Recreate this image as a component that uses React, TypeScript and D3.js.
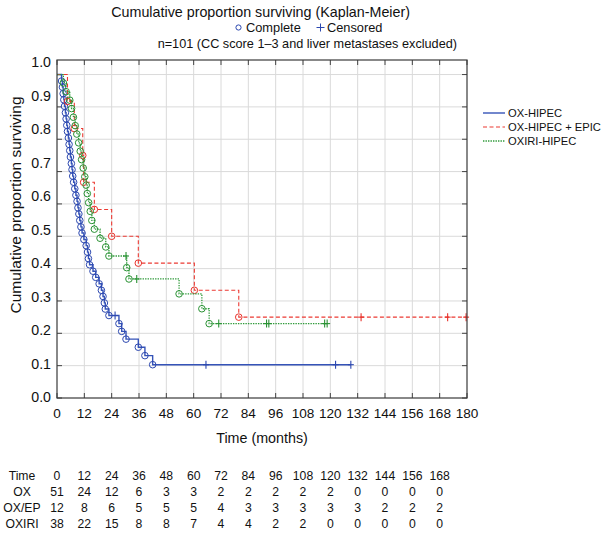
import React from 'react';
import * as d3 from 'd3';

// ---------- data ----------
const xTickValues = [0, 12, 24, 36, 48, 60, 72, 84, 96, 108, 120, 132, 144, 156, 168, 180];
const yTickValues = [0, 0.1, 0.2, 0.3, 0.4, 0.5, 0.6, 0.7, 0.8, 0.9, 1.0];

const seriesNames = ['OX-HIPEC', 'OX-HIPEC + EPIC', 'OXIRI-HIPEC'];

// [time (months), cumulative proportion surviving] at each complete (event) observation
const oxEvents: [number, number][] = [
  [2.0, 0.980], [2.4, 0.961], [2.7, 0.941], [3.0, 0.922], [3.3, 0.902], [3.7, 0.882],
  [4.0, 0.863], [4.3, 0.843], [4.6, 0.824], [5.0, 0.804], [5.3, 0.784], [5.6, 0.765],
  [5.9, 0.745], [6.3, 0.725], [6.6, 0.706], [6.9, 0.686], [7.3, 0.667], [7.8, 0.647],
  [8.3, 0.627], [8.8, 0.608], [9.2, 0.588], [9.6, 0.569], [10.0, 0.549], [10.5, 0.529],
  [11.0, 0.510], [11.8, 0.490], [12.8, 0.471], [13.4, 0.451], [13.8, 0.431], [14.3, 0.412],
  [15.8, 0.392], [17.0, 0.373], [18.5, 0.353], [19.5, 0.333], [20.2, 0.314], [20.8, 0.294],
  [21.2, 0.275], [22.8, 0.255], [27.2, 0.230], [28.4, 0.206], [30.3, 0.182], [35.7, 0.157],
  [38.6, 0.131], [42.0, 0.103],
];
const oxCensored: [number, number][] = [
  [25.5, 0.255], [65.4, 0.103], [122.3, 0.103], [129.0, 0.103],
];

const epicEvents: [number, number][] = [
  [4.6, 0.917], [7.6, 0.833], [11.3, 0.750], [11.7, 0.667], [16.4, 0.583],
  [24.0, 0.500], [35.7, 0.417], [60.3, 0.333], [79.8, 0.250],
];
const epicCensored: [number, number][] = [
  [133.5, 0.250], [171.5, 0.250], [179.6, 0.250],
];

const oxiriEvents: [number, number][] = [
  [2.8, 0.974], [4.0, 0.947], [5.6, 0.921], [6.4, 0.895], [7.2, 0.868], [8.0, 0.842],
  [8.7, 0.816], [9.5, 0.789], [10.2, 0.763], [10.8, 0.737], [11.5, 0.711], [12.2, 0.684],
  [12.8, 0.658], [13.3, 0.632], [13.9, 0.604], [14.6, 0.577], [15.3, 0.549], [16.4, 0.522],
  [18.9, 0.494], [21.4, 0.467], [22.8, 0.439], [30.6, 0.403], [31.6, 0.368], [53.6, 0.322],
  [63.6, 0.276], [66.8, 0.230],
];
const oxiriCensored: [number, number][] = [
  [30.3, 0.439], [35.0, 0.368], [71.0, 0.230], [92.0, 0.230], [93.0, 0.230],
  [117.5, 0.230], [118.6, 0.230],
];

// numbers at risk
const riskTimes = [0, 12, 24, 36, 48, 60, 72, 84, 96, 108, 120, 132, 144, 156, 168];
const riskLabels = ['Time', 'OX', 'OX/EP', 'OXIRI'];
const riskOX = [51, 24, 12, 6, 3, 3, 2, 2, 2, 2, 2, 0, 0, 0, 0];
const riskOXEP = [12, 8, 6, 5, 5, 5, 4, 3, 3, 3, 3, 3, 2, 2, 2];
const riskOXIRI = [38, 22, 15, 8, 8, 7, 4, 4, 2, 2, 0, 0, 0, 0, 0];

// ---------- layout / style ----------
const W = 607;
const H = 533;
const FONT = '"Liberation Sans", Arial, Helvetica, sans-serif';
const plot = { left: 57, right: 467, top: 60, bottom: 398 };

const styles = [
  { color: '#3553b8', mark: '#2c48b0', width: 1.4, dash: undefined as string | undefined },
  { color: '#ec3a33', mark: '#e8322b', width: 1.1, dash: '4,2.5' },
  { color: '#2f9a3a', mark: '#2a9234', width: 1.3, dash: '1.4,1.1' },
];

export default function App() {
  const x = d3.scaleLinear().domain([0, 180]).range([plot.left, plot.right]);
  const y = d3.scaleLinear().domain([0, 1.045]).range([plot.bottom, plot.top]);
  const yLabel = d3.scaleLinear().domain([0, 1]).range([397, 62]);

  const line = d3
    .line<[number, number]>()
    .x((d) => x(d[0]))
    .y((d) => y(d[1]))
    .curve(d3.curveStepAfter);

  const series = [
    { events: oxEvents, censored: oxCensored },
    { events: epicEvents, censored: epicCensored },
    { events: oxiriEvents, censored: oxiriCensored },
  ];

  const paths = series.map((s) => {
    const endT = d3.max(s.censored, (d) => d[0]) as number;
    const last = s.events[s.events.length - 1][1];
    const pts: [number, number][] = [[0, 1], ...s.events, [endT, last]];
    return line(pts) as string;
  });

  const tickLen = 5;
  const riskRows = [riskTimes, riskOX, riskOXEP, riskOXIRI];
  const riskY = [476, 492, 508, 524];

  return (
    <svg
      width={W}
      height={H}
      viewBox={`0 0 ${W} ${H}`}
      style={{ position: 'absolute', left: 0, top: 0, background: '#fff' }}
      fontFamily={FONT}
    >
      <rect x={0} y={0} width={W} height={H} fill="#fff" />

      {/* titles */}
      <text x={410} y={16.5} fontSize={14.3} textAnchor="end" fill="#111">
        Cumulative proportion surviving (Kaplan-Meier)
      </text>
      <circle cx={238.5} cy={27.5} r={2.6} fill="none" stroke="#2c48b0" strokeWidth={1} />
      <text x={246} y={32} fontSize={12.8} fill="#111">Complete</text>
      <g stroke="#2c48b0" strokeWidth={1}>
        <line x1={320.5} x2={320.5} y1={23.5} y2={31.5} />
        <line x1={316.5} x2={324.5} y1={27.5} y2={27.5} />
      </g>
      <text x={327} y={32} fontSize={12.8} fill="#111">Censored</text>
      <text x={457} y={48} fontSize={12.7} textAnchor="end" fill="#111">
        n=101 (CC score 1–3 and liver metastases excluded)
      </text>

      {/* grid */}
      <g stroke="#dadada" strokeWidth={1}>
        {xTickValues.slice(1, -1).map((t) => (
          <line key={'gx' + t} x1={x(t)} x2={x(t)} y1={plot.top} y2={plot.bottom} />
        ))}
        {yTickValues.slice(1).map((v) => (
          <line key={'gy' + v} x1={plot.left} x2={plot.right} y1={y(v)} y2={y(v)} />
        ))}
      </g>

      {/* ticks */}
      <g stroke="#444" strokeWidth={1}>
        {xTickValues.map((t) => (
          <g key={'tx' + t}>
            <line x1={x(t)} x2={x(t)} y1={plot.bottom} y2={plot.bottom - tickLen} />
            <line x1={x(t)} x2={x(t)} y1={plot.top} y2={plot.top + tickLen} />
          </g>
        ))}
        {yTickValues.map((v) => (
          <g key={'ty' + v}>
            <line x1={plot.left} x2={plot.left + tickLen} y1={y(v)} y2={y(v)} />
            <line x1={plot.right} x2={plot.right - tickLen} y1={y(v)} y2={y(v)} />
          </g>
        ))}
      </g>

      {/* curves */}
      {series.map((s, i) => (
        <g key={'s' + i}>
          <path
            d={paths[i]}
            fill="none"
            stroke={styles[i].color}
            strokeWidth={styles[i].width}
            strokeDasharray={styles[i].dash}
          />
          {s.events.map((d, j) => (
            <circle
              key={'c' + j}
              cx={x(d[0])}
              cy={y(d[1])}
              r={3.3}
              fill="none"
              stroke={styles[i].mark}
              strokeWidth={1}
            />
          ))}
          {s.censored.map((d, j) => (
            <g key={'p' + j} stroke={styles[i].mark} strokeWidth={1.1}>
              <line x1={x(d[0])} x2={x(d[0])} y1={y(d[1]) - 4} y2={y(d[1]) + 4} />
              <line x1={x(d[0]) - 3} x2={x(d[0]) + 3} y1={y(d[1])} y2={y(d[1])} />
            </g>
          ))}
        </g>
      ))}

      {/* frame */}
      <rect
        x={plot.left}
        y={plot.top}
        width={plot.right - plot.left}
        height={plot.bottom - plot.top}
        fill="none"
        stroke="#3a3a3a"
        strokeWidth={1.2}
      />

      {/* axis labels */}
      {yTickValues.map((v) => (
        <text key={'ly' + v} x={51} y={yLabel(v)} dy="0.36em" fontSize={14.2} textAnchor="end" fill="#111">
          {v.toFixed(1)}
        </text>
      ))}
      {xTickValues.map((t) => (
        <text key={'lx' + t} x={x(t)} y={418} fontSize={13.6} textAnchor="middle" fill="#111">
          {t}
        </text>
      ))}
      <text x={262} y={443} fontSize={14.3} textAnchor="middle" fill="#111">
        Time (months)
      </text>
      <text
        transform={`translate(21,${205}) rotate(-90)`}
        fontSize={15.5}
        textAnchor="middle"
        fill="#111"
      >
        Cumulative proportion surviving
      </text>

      {/* legend */}
      {seriesNames.map((name, i) => (
        <g key={'lg' + i}>
          <line
            x1={483}
            x2={505}
            y1={113 + i * 14}
            y2={113 + i * 14}
            stroke={styles[i].color}
            strokeWidth={styles[i].width}
            strokeDasharray={styles[i].dash}
          />
          <text x={508} y={113 + i * 14} dy="0.35em" fontSize={11.2} fill="#111">
            {name}
          </text>
        </g>
      ))}

      {/* numbers at risk table */}
      {riskRows.map((row, r) => (
        <g key={'rr' + r} fontSize={12.2} fill="#111">
          <text x={22} y={riskY[r]} dy="0.35em" textAnchor="middle">
            {riskLabels[r]}
          </text>
          {row.map((v, c) => (
            <text key={'rc' + c} x={x(riskTimes[c])} y={riskY[r]} dy="0.35em" textAnchor="middle">
              {v}
            </text>
          ))}
        </g>
      ))}
    </svg>
  );
}
